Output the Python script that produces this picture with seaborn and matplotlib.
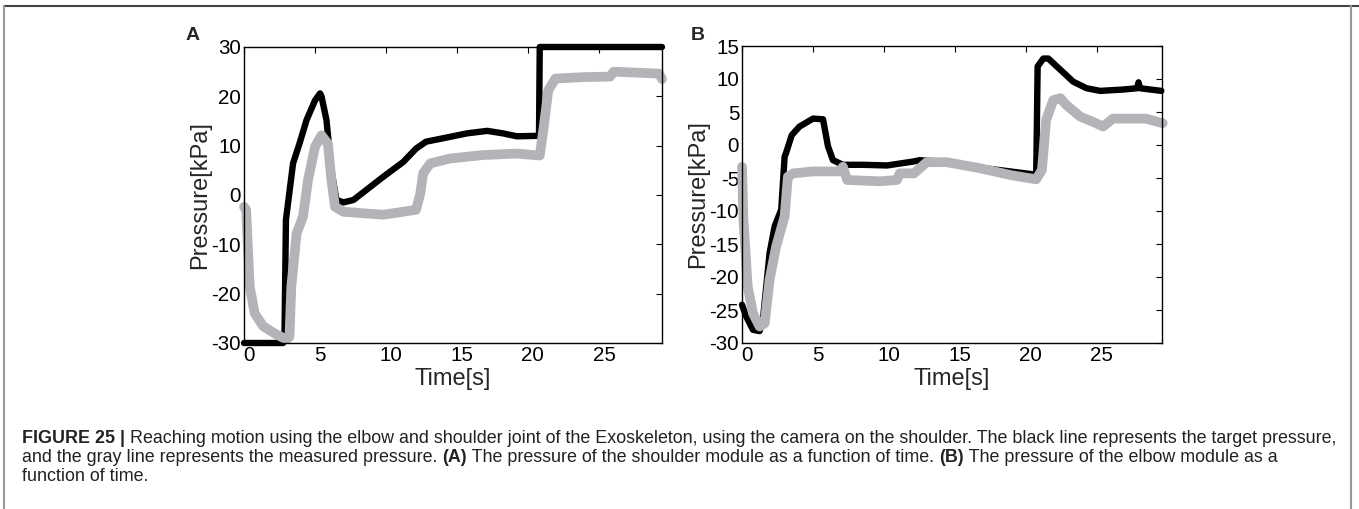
import numpy as np
import pandas as pd
import seaborn as sns
import matplotlib
matplotlib.use("Agg")
import matplotlib.pyplot as plt
from matplotlib.lines import Line2D
from matplotlib.transforms import ScaledTranslation

# valores (t em s, pressao em kPa)
a_target_t = [0, 2.75, 2.85, 2.95, 3.45, 3.9, 4.4, 5.0, 5.35, 5.45, 5.8, 6.15, 6.5, 7.0,
              7.7, 9.8, 11.2, 12.1, 12.8, 14.0, 15.7, 17.1, 18.2, 19.2, 20.75, 20.8, 29.4]
a_target_p = [-30, -30, -28, -5, 6.4, 10.4, 15.2, 19.2, 20.6, 20.0, 15.2, 5, -1, -1.5,
              -1, 3.7, 6.7, 9.4, 10.8, 11.5, 12.5, 13, 12.5, 11.9, 12, 30, 30]

a_meas_t = [0, 0.15, 0.4, 0.75, 1.35, 2.3, 3.0, 3.2, 3.33, 3.7, 4.15, 4.5, 5.0, 5.45, 5.9,
            6.15, 6.4, 7.0, 9.8, 12.1, 12.4, 12.6, 13.1, 14.5, 16.8, 19.2, 20.8, 21.05, 21.4,
            21.9, 23.9, 25.75, 26.0, 29.2, 29.4]
a_meas_p = [-2.4, -3, -18.5, -24, -26.6, -28.3, -29.3, -28.7, -18.5, -7.8, -4.4, 3, 9.8, 12.1, 10.4,
            3, -2.4, -3.4, -4, -3, 0.3, 4.4, 6.4, 7.4, 8.1, 8.4, 8, 13.1, 21.2,
            23.6, 23.9, 24, 25, 24.6, 23.5]

b_target_t = [0, 0.3, 0.77, 1.24, 1.47, 1.94, 2.3, 2.76, 3.0, 3.1, 3.5, 4.05, 5.0, 5.7, 6.05,
              6.4, 7.1, 8.5, 10.2, 12.06, 12.5, 14.4, 17.0, 20.7, 20.8, 21.2, 21.55, 22.4,
              23.3, 24.24, 25.2, 26.8, 27.8, 27.9, 28.0, 29.5]
b_target_p = [-24.2, -26, -28, -28.2, -26.5, -16.4, -12.3, -9.8, -1.75, -1.2, 1.5, 2.8, 4, 3.9, -0.2,
              -2.3, -3, -3, -3.1, -2.5, -2.3, -2.6, -3.5, -4.5, 11.9, 13.1, 13.1, 11.4,
              9.6, 8.6, 8.2, 8.4, 8.6, 9.5, 8.6, 8.2]

b_meas_t = [0, 0.1, 0.4, 0.77, 1.24, 1.6, 1.94, 2.4, 3.0, 3.23, 3.6, 5.0, 6.9, 7.1, 7.4, 9.7,
            10.9, 11.1, 12.1, 13.0, 14.4, 16.7, 19.0, 20.7, 21.1, 21.4, 21.9, 22.4, 22.8,
            23.8, 24.7, 25.4, 26.1, 28.4, 29.6]
b_meas_p = [-3.3, -11.3, -21.4, -25.5, -27.5, -27, -20.4, -15.4, -10.8, -4.8, -4.3, -4, -4, -3.3, -5.3, -5.5,
            -5.3, -4.3, -4.3, -2.6, -2.6, -3.5, -4.6, -5.2, -3.8, 3.8, 6.8, 7.1, 6.1,
            4.3, 3.5, 2.8, 4, 4, 3.3]

sns.set_theme(style="white")
plt.rcParams["font.family"] = ["Liberation Sans", "DejaVu Sans"]
plt.rcParams["axes.unicode_minus"] = False

fig = plt.figure(figsize=(13.59, 5.09), dpi=100)
gray = "#b4b4b8"

paineis = [
    ("A", [244 / 1359, 1 - 343 / 509, 418 / 1359, 296 / 509], a_target_t, a_target_p, a_meas_t, a_meas_p,
     29.4, (-30, 30), np.arange(-30, 31, 10), 186),
    ("B", [742 / 1359, 1 - 343 / 509, 420 / 1359, 297 / 509], b_target_t, b_target_p, b_meas_t, b_meas_p,
     29.55, (-30, 15), np.arange(-30, 16, 5), 691),
]

for letra, pos, tt, tp, mt, mp, xmax, ylim, yticks, xletra in paineis:
    ax = fig.add_axes(pos)
    sns.lineplot(x=tt, y=tp, ax=ax, color="black", linewidth=4.6, sort=False, estimator=None, zorder=2)
    sns.lineplot(x=mt, y=mp, ax=ax, color=gray, linewidth=7, sort=False, estimator=None, zorder=3)
    for ln in ax.lines:
        ln.set_clip_on(False)
    ax.set_xlim(0, xmax)
    ax.set_ylim(*ylim)
    ax.set_xticks(np.arange(0, 26, 5))
    ax.set_yticks(yticks)
    ax.tick_params(direction="in", top=True, right=True, length=4, width=0.8, labelsize=14.8,
                   colors="black", pad=2)
    desloc = ScaledTranslation(4.5 / 100, 0, fig.dpi_scale_trans)
    for lab in ax.get_xticklabels():
        lab.set_transform(lab.get_transform() + desloc)
    for s in ax.spines.values():
        s.set_color("black")
        s.set_linewidth(1.0)
        s.set_zorder(5)
    ax.set_xlabel("Time[s]", fontsize=17, labelpad=2)
    ax.set_ylabel("Pressure[kPa]", fontsize=17, labelpad=0)
    fig.text(xletra / 1359, 1 - 40 / 509, letra, fontsize=14, fontweight="bold", ha="left", va="baseline")

# moldura da figura
fig.add_artist(Line2D([4 / 1359, 1], [1 - 6 / 509, 1 - 6 / 509], color="#444444", linewidth=1.5))
fig.add_artist(Line2D([4 / 1359, 4 / 1359], [0, 1 - 6 / 509], color="#999999", linewidth=1.5))
fig.add_artist(Line2D([1351 / 1359, 1351 / 1359], [0, 1 - 6 / 509], color="#999999", linewidth=1.5))

# legenda (texto com partes em negrito)
linhas = [
    [("FIGURE 25 |", True), (" Reaching motion using the elbow and shoulder joint of the Exoskeleton, "
                             "using the camera on the shoulder. The black line represents the target pressure,", False)],
    [("and the gray line represents the measured pressure. ", False), ("(A)", True),
     (" The pressure of the shoulder module as a function of time. ", False), ("(B)", True),
     (" The pressure of the elbow module as a", False)],
    [("function of time.", False)],
]
renderer = fig.canvas.get_renderer()
y0 = 443
for linha in linhas:
    x = 22
    for txt, negrito in linha:
        t = fig.text(x / 1359, 1 - y0 / 509, txt, fontsize=12.85, color="#222222",
                     fontweight="bold" if negrito else "normal", ha="left", va="baseline")
        x += t.get_window_extent(renderer=renderer).width
    y0 += 19

fig.savefig("out.png", dpi=100)
